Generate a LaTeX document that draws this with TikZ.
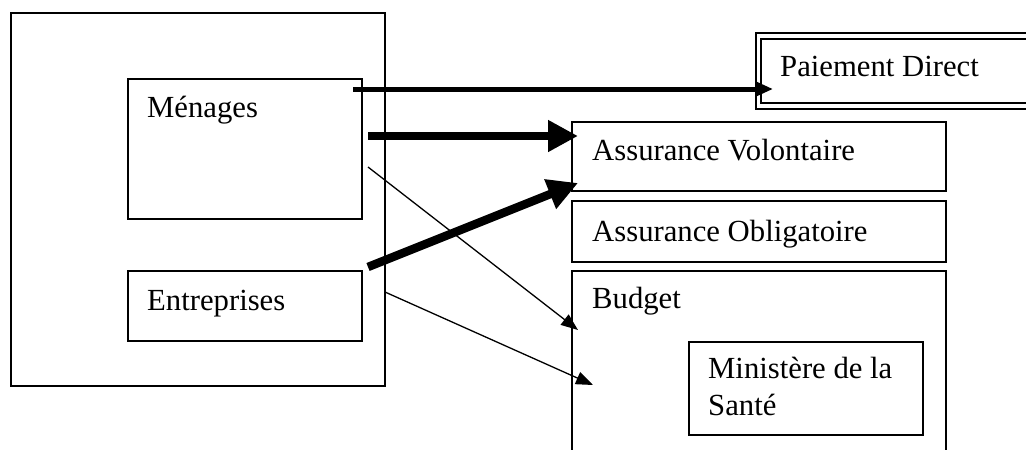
\documentclass[tikz,border=0pt]{standalone}
\usepackage{fontspec}
\setmainfont{Liberation Serif}
\usetikzlibrary{arrows.meta}
\begin{document}
\begin{tikzpicture}[x=1pt,y=-1pt,
  box/.style={draw, line width=1.5pt, inner sep=0pt, anchor=north west},
  lbl/.style={anchor=base west, inner sep=0pt, font=\fontsize{30.7}{37}\selectfont},
  bigarrow/.style={line width=8.5pt, -{Triangle[length=30pt,width=30pt]}},
  midarrow/.style={line width=5pt, -{Triangle[length=16pt,width=13pt]}},
  thinarrow/.style={line width=1.3pt, -{Triangle[length=17pt,width=13pt]}}]
\useasboundingbox (0,0) rectangle (1026,450);
\clip (0,0) rectangle (1026,450);
% boxes
\node[box, minimum width=374pt, minimum height=373pt] (outer) at (10,12) {};
\node[box, minimum width=234pt, minimum height=140pt] (men) at (127,78) {};
\node[box, minimum width=234pt, minimum height=70pt] (ent) at (127,270) {};
\node[box, line width=2pt, minimum width=300pt, minimum height=76pt] (pdo) at (755,32) {};
\node[box, line width=2pt, minimum width=300pt, minimum height=64pt] (pdi) at (760,38) {};
\node[box, minimum width=374pt, minimum height=69pt] (av) at (571,121) {};
\node[box, minimum width=374pt, minimum height=61pt] (ao) at (571,200) {};
\node[box, minimum width=374pt, minimum height=200pt] (bud) at (571,270) {};
\node[box, minimum width=234pt, minimum height=93pt] (min) at (688,341) {};
% labels
\node[lbl] (tmen) at (147,117) {Ménages};
\node[lbl] (tent) at (147,310) {Entreprises};
\node[lbl] (tpd) at (780,76) {Paiement Direct};
\node[lbl] (tav) at (592,160) {Assurance Volontaire};
\node[lbl] (tao) at (592,241) {Assurance Obligatoire};
\node[lbl] (tbud) at (592,308) {Budget};
\node[lbl] (tmin1) at (708,378) {Ministère de la};
\node[lbl] (tmin2) at (708,415) {Santé};
% connector end points
\coordinate (a1s) at (353,89);
\coordinate (a1e) at (773,89);
\coordinate (a2s) at (368,136);
\coordinate (a2e) at (578,136);
\coordinate (a3s) at (368,267);
\coordinate (a3e) at (578,183);
\coordinate (a4s) at (368,167);
\coordinate (a4e) at (578,330);
\coordinate (a5s) at (385,292);
\coordinate (a5e) at (593,385);
% arrows
\draw[midarrow] (a1s) -- (a1e);
\draw[bigarrow] (a2s) -- (a2e);
\draw[bigarrow] (a3s) -- (a3e);
\draw[thinarrow] (a4s) -- (a4e);
\draw[thinarrow] (a5s) -- (a5e);
\end{tikzpicture}
\end{document}
